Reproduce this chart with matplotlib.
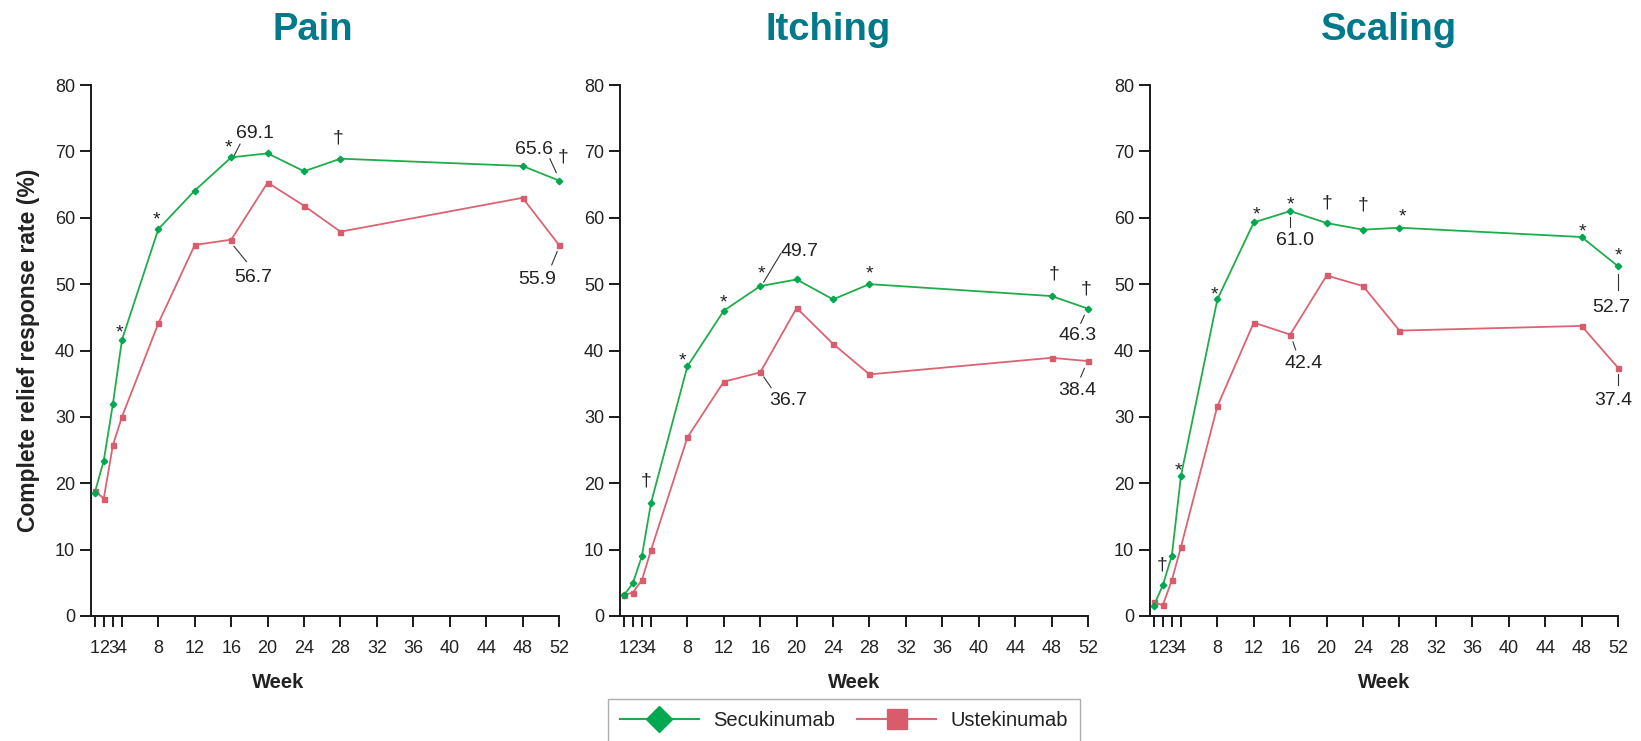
import matplotlib
matplotlib.use('Agg')
import matplotlib.pyplot as plt
from matplotlib.lines import Line2D

plt.rcParams['font.family'] = ['Liberation Sans', 'DejaVu Sans']

# Data
weeks = [1, 2, 3, 4, 8, 12, 16, 20, 24, 28, 48, 52]
xticks = [1, 2, 3, 4, 8, 12, 16, 20, 24, 28, 32, 36, 40, 44, 48, 52]

pain_secu = [18.5, 23.4, 31.9, 41.6, 58.3, 64.1, 69.1, 69.7, 67.0, 68.9, 67.8, 65.6]
pain_uste = [18.9, 17.7, 25.7, 30.0, 44.1, 55.9, 56.7, 65.3, 61.8, 57.9, 63.0, 55.9]
itch_secu = [3.1, 4.9, 9.0, 17.0, 37.6, 46.0, 49.7, 50.7, 47.7, 50.0, 48.2, 46.3]
itch_uste = [3.2, 3.5, 5.4, 9.9, 26.9, 35.3, 36.7, 46.4, 41.0, 36.4, 38.9, 38.4]
scal_secu = [1.5, 4.6, 9.1, 21.1, 47.7, 59.3, 61.0, 59.2, 58.2, 58.5, 57.1, 52.7]
scal_uste = [2.1, 1.6, 5.4, 10.4, 31.6, 44.2, 42.4, 51.3, 49.7, 43.0, 43.7, 37.4]

titles = ['Pain', 'Itching', 'Scaling']

# significance marks (text, week, value)
pain_marks = [('*', 3.75, 43.6), ('*', 7.75, 60.7), ('*', 15.7, 71.6),
              ('†', 27.75, 72.2), ('†', 52.5, 69.3)]
itch_marks = [('†', 3.43, 20.5), ('*', 7.47, 39.5), ('*', 11.98, 48.2),
              ('*', 16.1, 52.6), ('*', 28.0, 52.6), ('†', 48.3, 51.7),
              ('†', 51.8, 49.4)]
scal_marks = [('†', 1.98, 7.8), ('*', 3.7, 22.9), ('*', 7.67, 49.4),
              ('*', 12.27, 61.4), ('*', 16.0, 62.9), ('†', 20.0, 62.4),
              ('†', 24.05, 62.1), ('*', 28.3, 61.1), ('*', 48.1, 58.9),
              ('*', 52.0, 55.2)]

# value call-outs (text, label pos, leader start, leader end)
pain_labels = [('69.1', (18.65, 73.0), (16.3, 69.3), (16.97, 71.1)),
               ('65.6', (49.3, 70.65), (51.7, 66.8), (51.0, 68.9)),
               ('56.7', (18.46, 51.4), (16.3, 55.7), (17.67, 53.4)),
               ('55.9', (49.65, 51.1), (51.8, 54.9), (51.2, 52.9))]
itch_labels = [('49.7', (20.3, 55.3), (16.38, 50.3), (18.26, 54.6)),
               ('46.3', (50.8, 42.6), (51.6, 45.3), (51.2, 44.1)),
               ('36.7', (19.1, 32.8), (16.4, 36.0), (17.2, 34.4)),
               ('38.4', (50.8, 34.4), (51.6, 37.3), (51.2, 36.0))]
scal_labels = [('61.0', (16.5, 57.0), (16.0, 60.1), (16.0, 58.6)),
               ('52.7', (51.25, 46.9), (52.0, 51.6), (52.0, 49.1)),
               ('42.4', (17.45, 38.4), (16.3, 41.3), (16.6, 40.1)),
               ('37.4', (51.5, 32.9), (52.0, 36.4), (52.0, 34.8))]

green = '#1fad4b'
green_dark = '#00a84f'
red = '#dc6373'
red_dark = '#d95c6c'
teal = '#00798a'
ink = '#222222'

W, H = 1641, 741
fig = plt.figure(figsize=(W / 100, H / 100), dpi=100)

panel_left = [91, 620, 1150]
title_x = [313, 828, 1389]
secu = [pain_secu, itch_secu, scal_secu]
uste = [pain_uste, itch_uste, scal_uste]
marks = [pain_marks, itch_marks, scal_marks]
labels = [pain_labels, itch_labels, scal_labels]
week_x = [0.40, 0.5, 0.5]

# ink centre above baseline, in em, for each kind of glyph
centre = {'*': 0.58, '†': 0.28}


def put(ax, s, x, y, fs):
    c = centre.get(s, 0.36)
    ax.annotate(s, (x, y), xytext=(0, -c * fs), textcoords='offset points',
                ha='center', va='baseline', fontsize=fs, color=ink,
                annotation_clip=False)


for i in range(3):
    ax = fig.add_axes([panel_left[i] / W, 125 / H, 468 / W, 531 / H])
    ax.plot(weeks, uste[i], color=red, lw=1.3, marker='s', ms=3.6,
            mfc=red_dark, mec=red_dark, zorder=3, clip_on=False)
    ax.plot(weeks, secu[i], color=green, lw=1.3, marker='D', ms=3.3,
            mfc=green_dark, mec=green_dark, zorder=4, clip_on=False)

    for s, x, y in marks[i]:
        put(ax, s, x, y, 14)
    for s, (tx, ty), p0, p1 in labels[i]:
        put(ax, s, tx, ty, 14)
        ax.plot([p0[0], p1[0]], [p0[1], p1[1]], color='#333333', lw=0.8,
                zorder=2, clip_on=False)

    ax.set_xlim(0.6, 52)
    ax.set_ylim(0, 80)
    ax.set_xticks(xticks)
    ax.set_yticks(range(0, 81, 10))
    for side in ['top', 'right']:
        ax.spines[side].set_visible(False)
    for side in ['left', 'bottom']:
        ax.spines[side].set_linewidth(1.4)
        ax.spines[side].set_color('#1a1a1a')
    ax.spines['bottom'].set_bounds(0.6, 52)
    ax.tick_params(axis='both', direction='out', length=8, width=1.4,
                   color='#1a1a1a', labelsize=13, labelcolor=ink)
    ax.tick_params(axis='x', pad=9)
    ax.tick_params(axis='y', pad=3.5)

    ax.set_xlabel('Week', fontsize=14.5, fontweight='bold', color=ink, va='center')
    ax.xaxis.set_label_coords(week_x[i], -(682 - 616) / 531)
    if i == 0:
        ax.set_ylabel('Complete relief response rate (%)', fontsize=16.5,
                      fontweight='bold', color=ink, va='center')
        ax.yaxis.set_label_coords((28.6 - 91) / 468, 0.5)

    fig.text(title_x[i] / W, (H - 39.8) / H, titles[i], ha='center',
             va='baseline', fontsize=27.5, fontweight='bold', color=teal)

handles = [Line2D([], [], color=green, lw=1.5, marker='D', ms=13.5,
                  mfc=green_dark, mec=green_dark),
           Line2D([], [], color=red, lw=1.5, marker='s', ms=15,
                  mfc=red_dark, mec=red_dark)]
leg = fig.legend(handles, ['Secukinumab', 'Ustekinumab'], loc='upper center',
                 bbox_to_anchor=(844 / W, (H - 699) / H), ncol=2,
                 prop={'size': 14.5},
                 frameon=True, fancybox=False, edgecolor='#999999',
                 borderpad=0.6, borderaxespad=0, handlelength=3.9,
                 handletextpad=0.72, columnspacing=1.1)
leg.get_frame().set_linewidth(1.0)
for t in leg.get_texts():
    t.set_color(ink)

fig.savefig('out.png', dpi=100)
